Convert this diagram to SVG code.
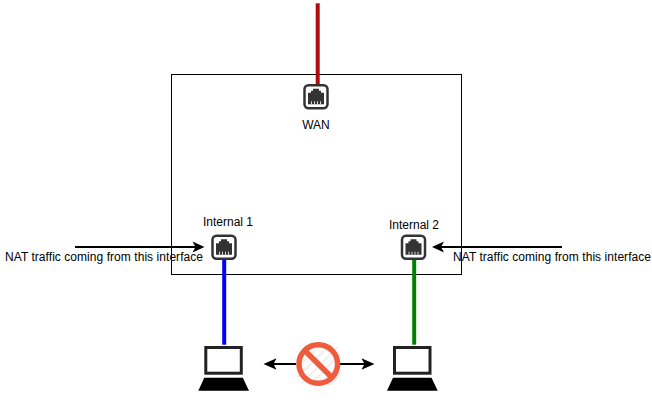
<svg xmlns="http://www.w3.org/2000/svg" width="652" height="406" viewBox="0 0 652 406">
<style>
text{font-family:"Liberation Sans",Arial,sans-serif;font-size:12px;fill:#000}
.m{text-anchor:middle}
.port{fill:#fff;stroke:#333;stroke-width:2.5}
.jack{fill:#333}
.slit{stroke:#fff;stroke-width:.8;fill:none}
.arr{fill:none;stroke:#000;stroke-width:2}
.head{fill:#000}
</style>
<defs>
<g id="rj"><rect class="port" x="-11.500" y="-11.500" width="23" height="23" rx="4"/><path class="jack" d="M-3-8h6v2h2v2h3v11.500h-16v-11.500h3v-2h2z"/><path class="slit" d="M-4.500 4.500v3M-1.500 4.500v3M1.500 4.500v3M4.500 4.500v3"/></g>
<g id="lap"><rect x="7.500" y="1.500" width="35.500" height="25.700" fill="#fff" stroke="#222" stroke-width="3"/><path d="M6 31.700H44.500L50.700 44.700H0z" fill="#000"/></g>
<pattern id="hatch" width="7" height="7" patternUnits="userSpaceOnUse" patternTransform="rotate(-45)"><rect width="7" height="7" fill="#fff"/><rect width="7" height="2.500" fill="#f0f0f0"/></pattern>
</defs>
<g id="router"><rect x="171.500" y="74.500" width="290" height="200" fill="#fff" stroke="#000"/></g>
<g id="connectors">
<path d="M317.700 3.300V84" stroke="#b20b0b" stroke-width="4" fill="none"/>
<path d="M224.200 260V344.700" stroke="#0000ff" stroke-width="4" fill="none"/>
<path d="M414.200 260V344.700" stroke="#008000" stroke-width="4" fill="none"/>
<path class="arr" d="M75 247H197"/><path class="head" d="M204.500 247l-12-5.500 3 5.500-3 5.500z"/>
<path class="arr" d="M562 247H439"/><path class="head" d="M432 247l12-5.500-3 5.500 3 5.500z"/>
<path class="arr" d="M296 364H272"/><path class="head" d="M263.500 364l13-5.700-3 5.700 3 5.700z"/>
<path class="arr" d="M340 364H366"/><path class="head" d="M374.500 364l-13-5.700 3 5.700-3 5.700z"/>
</g>
<g id="wan"><use href="#rj" x="316" y="96.700"/><text class="m" x="316" y="129">WAN</text></g>
<g id="internal1"><use href="#rj" x="224" y="247.200"/><text class="m" x="228" y="226">Internal 1</text></g>
<g id="internal2"><use href="#rj" x="413.500" y="247.200"/><text class="m" x="414" y="229">Internal 2</text></g>
<g id="note1"><text x="5" y="261" textLength="198">NAT traffic coming from this interface</text></g>
<g id="note2"><text x="453" y="261" textLength="198">NAT traffic coming from this interface</text></g>
<g id="laptop1"><use href="#lap" x="198.300" y="346"/></g>
<g id="laptop2"><use href="#lap" x="387" y="346"/></g>
<g id="block"><rect x="297" y="342.500" width="43" height="43" rx="11" fill="url(#hatch)"/><circle cx="318.300" cy="364" r="19.300" fill="none" stroke="#ee5b3d" stroke-width="5.500"/><path d="M305 350.700L331.600 377.300" stroke="#ee5b3d" stroke-width="5.500"/></g>
</svg>
